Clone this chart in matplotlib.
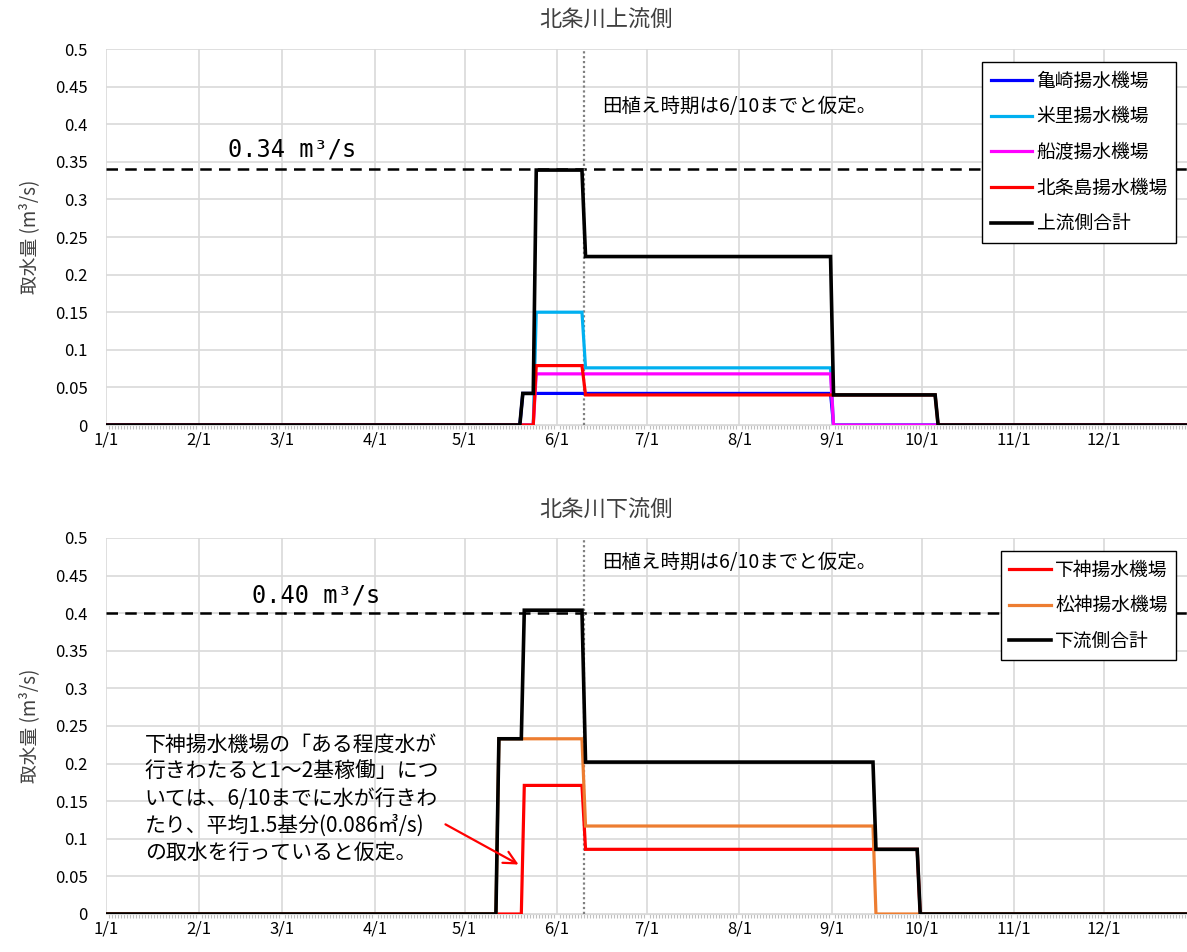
import matplotlib
matplotlib.use("Agg")
import matplotlib.pyplot as plt
from matplotlib.ticker import FixedLocator, MultipleLocator, FuncFormatter

plt.rcParams['font.family'] = ['Noto Sans CJK JP', 'DejaVu Sans']

# ---- axis data -------------------------------------------------------------
month_start_days = [0, 31, 59, 90, 120, 151, 181, 212, 243, 273, 304, 334]
month_labels = ['1/1', '2/1', '3/1', '4/1', '5/1', '6/1', '7/1', '8/1',
                '9/1', '10/1', '11/1', '12/1']
planting_end_day = 160          # 6/10

# ---- upstream (北条川上流側) ------------------------------------------------
up_days = [0, 138.5, 139.5, 143, 144, 159.3, 160.5, 242.5, 243.5, 277.5, 278.5, 365]
kamezaki = [0, 0, 0.042, 0.042, 0.042, 0.042, 0.042, 0.042, 0, 0, 0, 0]
yonezato = [0, 0, 0, 0, 0.150, 0.150, 0.076, 0.076, 0, 0, 0, 0]
funado = [0, 0, 0, 0, 0.068, 0.068, 0.068, 0.068, 0, 0, 0, 0]
hojojima = [0, 0, 0, 0, 0.079, 0.079, 0.040, 0.040, 0.040, 0.040, 0, 0]
up_total = [0, 0, 0.042, 0.042, 0.339, 0.339, 0.224, 0.224, 0.040, 0.040, 0, 0]
up_limit = 0.34

# ---- downstream (北条川下流側) ----------------------------------------------
dn_days = [0, 130.5, 131.5, 139, 140, 159.3, 160.5, 256.7, 257.7, 271.5, 272.5, 365]
shimogami = [0, 0, 0, 0, 0.171, 0.171, 0.086, 0.086, 0.086, 0.086, 0, 0]
matsugami = [0, 0, 0.233, 0.233, 0.233, 0.233, 0.117, 0.117, 0, 0, 0, 0]
dn_total = [0, 0, 0.233, 0.233, 0.404, 0.404, 0.202, 0.202, 0.086, 0.086, 0, 0]
dn_limit = 0.40

up_series = [
    ('亀崎揚水機場', kamezaki, '#0000FF'),
    ('米里揚水機場', yonezato, '#00B0F0'),
    ('船渡揚水機場', funado, '#FF00FF'),
    ('北条島揚水機場', hojojima, '#FF0000'),
    ('上流側合計', up_total, '#000000'),
]
dn_series = [
    ('下神揚水機場', shimogami, '#FF0000'),
    ('松神揚水機場', matsugami, '#ED7D31'),
    ('下流側合計', dn_total, '#000000'),
]

W, H = 1187, 952
fig = plt.figure(figsize=(W / 100, H / 100), dpi=100)

ax_left = 106 / W
ax_w = 1 - ax_left
ax_h = 376 / H
ax_up = fig.add_axes([ax_left, 1 - 425 / H, ax_w, ax_h])
ax_dn = fig.add_axes([ax_left, 1 - 914 / H, ax_w, ax_h])

GRID = '#D9D9D9'


def style_axes(ax):
    ax.set_xlim(0, 361.8)
    ax.set_ylim(0, 0.5)
    ax.xaxis.set_major_locator(FixedLocator(month_start_days))
    ax.set_xticklabels(month_labels)
    ax.xaxis.set_minor_locator(MultipleLocator(1))
    ax.yaxis.set_major_locator(MultipleLocator(0.05))
    ax.yaxis.set_major_formatter(FuncFormatter(lambda v, p: f'{round(v, 2):g}'))
    ax.grid(True, which='major', color=GRID, lw=1.2, zorder=0)
    ax.set_axisbelow(True)
    for s in ('top', 'right', 'left'):
        ax.spines[s].set_visible(False)
    ax.spines['bottom'].set_color(GRID)
    ax.tick_params(axis='y', length=0, pad=13, labelsize=12)
    ax.tick_params(axis='x', which='major', length=0, pad=5, labelsize=12)
    ax.tick_params(axis='x', which='minor', length=3, width=0.8,
                   color='#BFBFBF', direction='out')
    ax.axvline(planting_end_day, color='#808080', ls=(0, (1, 1.2)), lw=1.6, zorder=3)


def draw(ax, days, series, limit, limit_x, limit_y, note_y, legend_top):
    style_axes(ax)
    ax.axhline(limit, color='black', lw=1.8, ls=(0, (4.6, 2.9)), zorder=2)
    handles = []
    for name, vals, col in series:
        lw = 2.6 if col == '#000000' else 2.3
        h, = ax.plot(days, vals, color=col, lw=lw, label=name, zorder=4,
                     solid_joinstyle='miter')
        handles.append(h)
    ax.text(limit_x, limit_y, f'{limit:.2f} m³/s', fontsize=17,
            family=['DejaVu Sans Mono'], ha='left', va='center', color='black')
    ax.text(166, note_y, '田植え時期は6/10までと仮定。', fontsize=14,
            ha='left', va='center', color='black')
    leg = ax.legend(handles=handles, loc='upper right',
                    bbox_to_anchor=(0.99, legend_top), fontsize=13.5,
                    frameon=True, fancybox=False, edgecolor='black',
                    framealpha=1, handlelength=2.2, handletextpad=0.25,
                    labelspacing=0.78, borderpad=0.45, borderaxespad=0)
    leg.get_frame().set_linewidth(1.0)
    leg.set_zorder(6)


draw(ax_up, up_days, up_series, up_limit, 40.8, 0.366, 0.424, 0.965)
draw(ax_dn, dn_days, dn_series, dn_limit, 48.9, 0.424, 0.467, 0.965)

# titles and axis labels
fig.text(606 / W, 1 - 20 / H, '北条川上流側', fontsize=16, color='#404040',
         ha='center', va='center')
fig.text(606 / W, 1 - 510 / H, '北条川下流側', fontsize=16, color='#404040',
         ha='center', va='center')
fig.text(30 / W, 1 - 237 / H, '取水量 (m³/s)', fontsize=13.5, rotation=90,
         ha='center', va='center', color='#404040')
fig.text(30 / W, 1 - 726 / H, '取水量 (m³/s)', fontsize=13.5, rotation=90,
         ha='center', va='center', color='#404040')

# note on the Shimogami pump station
note = ('下神揚水機場の「ある程度水が\n'
        '行きわたると1～2基稼働」につ\n'
        'いては、6/10までに水が行きわ\n'
        'たり、平均1.5基分(0.086㎥/s)\n'
        'の取水を行っていると仮定。')
ax_dn.text(13, 0.240, note, fontsize=15, ha='left', va='top',
           linespacing=1.3, color='black', zorder=5)
ax_dn.annotate('', xy=(138.9, 0.064), xytext=(112.8, 0.121),
               arrowprops=dict(arrowstyle='->,head_length=0.9,head_width=0.45',
                               color='#FF0000', lw=1.6), zorder=5)

fig.savefig('out.png', dpi=100)
